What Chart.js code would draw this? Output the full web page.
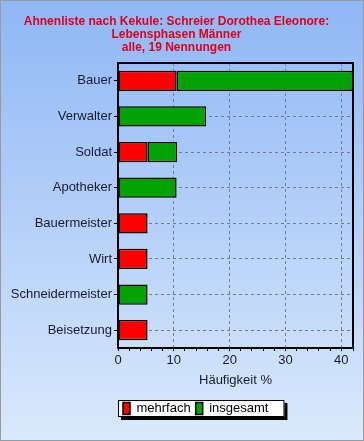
<!DOCTYPE html>
<html>
<head>
<meta charset="utf-8">
<script src="https://cdn.jsdelivr.net/npm/chart.js@4.4.0/dist/chart.umd.min.js"></script>
<style>
  html, body { margin: 0; padding: 0; background: #ffffff; }
  #wrap { width: 364px; height: 441px; }
</style>
</head>
<body>
<div id="wrap"><canvas id="lebensChart" width="364" height="441"></canvas></div>
<script>
// Daten (Häufigkeit in %, 19 Nennungen)
const berufe = ['Bauer', 'Verwalter', 'Soldat', 'Apotheker', 'Bauermeister', 'Wirt', 'Schneidermeister', 'Beisetzung'];
const mehrfach = [10.5, 0, 5.3, 0, 5.3, 5.3, 0, 5.3];
const insgesamt = [31.6, 15.8, 5.3, 10.5, 0, 0, 5.3, 0];
const titelZeilen = ['Ahnenliste nach Kekule: Schreier Dorothea Eleonore:', 'Lebensphasen Männer', 'alle, 19 Nennungen'];

const schrift = "'Liberation Sans', Arial, sans-serif";

// Hintergrund, Rahmen und Legendenkasten
const hintergrundPlugin = {
    id: 'hintergrund',
    beforeDraw(chart) {
        const { ctx, width, height } = chart;
        const grad = ctx.createLinearGradient(0, 0, 0, height);
        grad.addColorStop(0, '#8fb7f5');
        grad.addColorStop(1, '#dae9fc');
        ctx.save();
        ctx.fillStyle = grad;
        ctx.fillRect(0, 0, width, height);
        ctx.strokeStyle = '#9a9a9a';
        ctx.lineWidth = 1;
        ctx.strokeRect(0.5, 0.5, width - 1, height - 1);

        // Legendenkasten mit Schatten
        const lg = chart.legend;
        if (lg && lg.legendHitBoxes && lg.legendHitBoxes.length) {
            const boxes = lg.legendHitBoxes;
            const x0 = chart.chartArea.left;
            const last = boxes[boxes.length - 1];
            const x1 = last.left + last.width + 16;
            const y0 = boxes[0].top - 2;
            const y1 = boxes[0].top + boxes[0].height + 2;
            ctx.fillStyle = '#000000';
            ctx.fillRect(x0 + 3, y0 + 3, x1 - x0, y1 - y0);
            ctx.fillStyle = '#ffffff';
            ctx.fillRect(x0, y0, x1 - x0, y1 - y0);
            ctx.strokeStyle = '#000000';
            ctx.strokeRect(x0 + 0.5, y0 + 0.5, x1 - x0 - 1, y1 - y0 - 1);
        }
        ctx.restore();
    },
    afterDatasetsDraw(chart) {
        const { ctx, chartArea } = chart;
        ctx.save();
        ctx.strokeStyle = '#000000';
        ctx.lineWidth = 2;
        ctx.strokeRect(chartArea.left, chartArea.top, chartArea.right - chartArea.left, chartArea.bottom - chartArea.top);
        ctx.restore();
    }
};

const ctx = document.getElementById('lebensChart').getContext('2d');

const lebensChart = new Chart(ctx, {
    type: 'bar',
    data: {
        labels: berufe,
        datasets: [
            {
                label: 'mehrfach',
                data: mehrfach,
                backgroundColor: '#ff0000',
                borderColor: '#000000',
                borderWidth: 1.5,
                borderSkipped: false
            },
            {
                label: 'insgesamt',
                data: insgesamt,
                backgroundColor: '#00a300',
                borderColor: '#000000',
                borderWidth: 1.5,
                borderSkipped: false
            }
        ]
    },
    options: {
        indexAxis: 'y',
        responsive: false,
        animation: false,
        devicePixelRatio: 1,
        layout: {
            padding: { left: 0, right: 11, top: 0, bottom: 16 }
        },
        datasets: {
            bar: { categoryPercentage: 1, barPercentage: 0.57 }
        },
        plugins: {
            title: {
                display: true,
                text: titelZeilen,
                color: '#e0001b',
                font: { family: schrift, size: 12, weight: 'bold', lineHeight: 13 / 12 },
                padding: { top: 15, bottom: 9 }
            },
            legend: {
                display: true,
                position: 'bottom',
                align: 'start',
                fullSize: false,
                labels: {
                    boxWidth: 7,
                    boxHeight: 12,
                    color: '#000000',
                    padding: 5,
                    font: { family: schrift, size: 13 }
                }
            },
            tooltip: { enabled: false }
        },
        scales: {
            x: {
                stacked: true,
                min: 0,
                max: 42.1,
                afterFit: function(scale) { scale.height = 49; },
                ticks: {
                    stepSize: 2,
                    autoSkip: false,
                    maxRotation: 0,
                    color: '#1a1a33',
                    font: { family: schrift, size: 13 },
                    padding: 2,
                    callback: function(value) {
                        return (value % 10 === 0) ? value : '';
                    }
                },
                grid: {
                    color: function(c) {
                        if (c.tick && c.tick.value % 10 === 0 && c.tick.value !== 0) return '#6f7c96';
                        return 'rgba(0,0,0,0)';
                    },
                    tickColor: '#000000',
                    tickBorderDash: [],
                    tickLength: 3,
                    lineWidth: 1
                },
                border: { display: true, color: '#000000', width: 2, dash: [3, 3] },
                title: {
                    display: true,
                    text: 'Häufigkeit %',
                    color: '#1a1a33',
                    font: { family: schrift, size: 13 },
                    padding: { top: 0, bottom: 9 }
                }
            },
            y: {
                stacked: true,
                afterFit: function(scale) { scale.width = 118; },
                ticks: {
                    color: '#1a1a33',
                    font: { family: schrift, size: 13 },
                    padding: 2
                },
                grid: {
                    offset: false,
                    color: '#6f7c96',
                    tickColor: '#000000',
                    tickBorderDash: [],
                    tickLength: 4,
                    lineWidth: 1
                },
                border: { display: true, color: '#000000', width: 2, dash: [3, 3] }
            }
        }
    },
    plugins: [hintergrundPlugin]
});
</script>
</body>
</html>
